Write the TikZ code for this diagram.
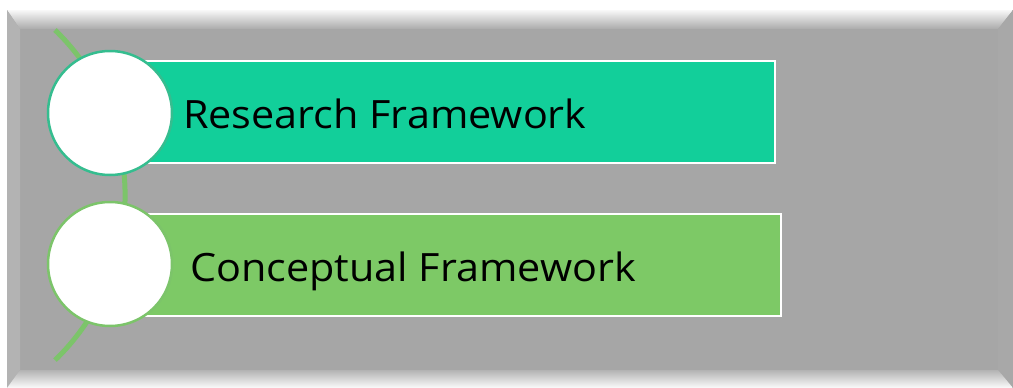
\documentclass[tikz,border=0pt]{standalone}
\usepackage{fontspec}
\setmainfont{Open Sans}[FakeStretch=1.06]
\definecolor{bggray}{HTML}{A6A6A6}
\definecolor{tealbar}{HTML}{12CF9A}
\definecolor{greenbar}{HTML}{7DC966}
\definecolor{arcgreen}{HTML}{7CC46A}
\definecolor{tealring}{HTML}{35BD8F}
\tikzset{
  bar/.style={draw=white, line width=1.5pt},
  bubble/.style={circle, fill=white, line width=2.5pt, minimum size=124pt, inner sep=0pt},
  label/.style={anchor=base west, inner sep=0pt, font=\fontsize{39}{44}\selectfont, text=black},
}
\begin{document}
\begin{tikzpicture}[x=1pt,y=-1pt]
\useasboundingbox (0,0) rectangle (1013,388);
\fill[white] (0,0) rectangle (1013,388);
% bevel frame
\fill[bggray] (7,10) rectangle (1013,388);
\shade[top color=white!92!bggray, bottom color=bggray!95!white] (7,10) -- (1013,10) -- (998,29) -- (20,29) -- cycle;
\fill[bggray!85!white] (7,10) -- (20,29) -- (20,370) -- (7,388) -- cycle;
\fill[bggray!98!white] (1013,10) -- (998,29) -- (998,370) -- (1013,388) -- cycle;
\shade[top color=bggray!85!white, bottom color=white!95!bggray] (20,370) -- (998,370) -- (1013,388) -- (7,388) -- cycle;
% arc
\coordinate (arcS) at (55,30);
\draw[arcgreen, line width=5pt] (arcS) arc[start angle=-46, end angle=46, radius=229.5];
% bars
\node[bar, fill=tealbar, minimum width=663pt, minimum height=102pt, inner sep=0pt, anchor=north west] (b1) at (111,60) {};
\node[bar, fill=greenbar, minimum width=669pt, minimum height=102pt, inner sep=0pt, anchor=north west] (b2) at (111,213) {};
% circles
\node[bubble, draw=tealring] (c1) at (110,113) {};
\node[bubble, draw=arcgreen] (c2) at (110,264) {};
% texts
\node[label] (t1) at (183,128) {Research Framework};
\node[label] (t2) at (190,281) {Conceptual Framework};
\end{tikzpicture}
\end{document}
